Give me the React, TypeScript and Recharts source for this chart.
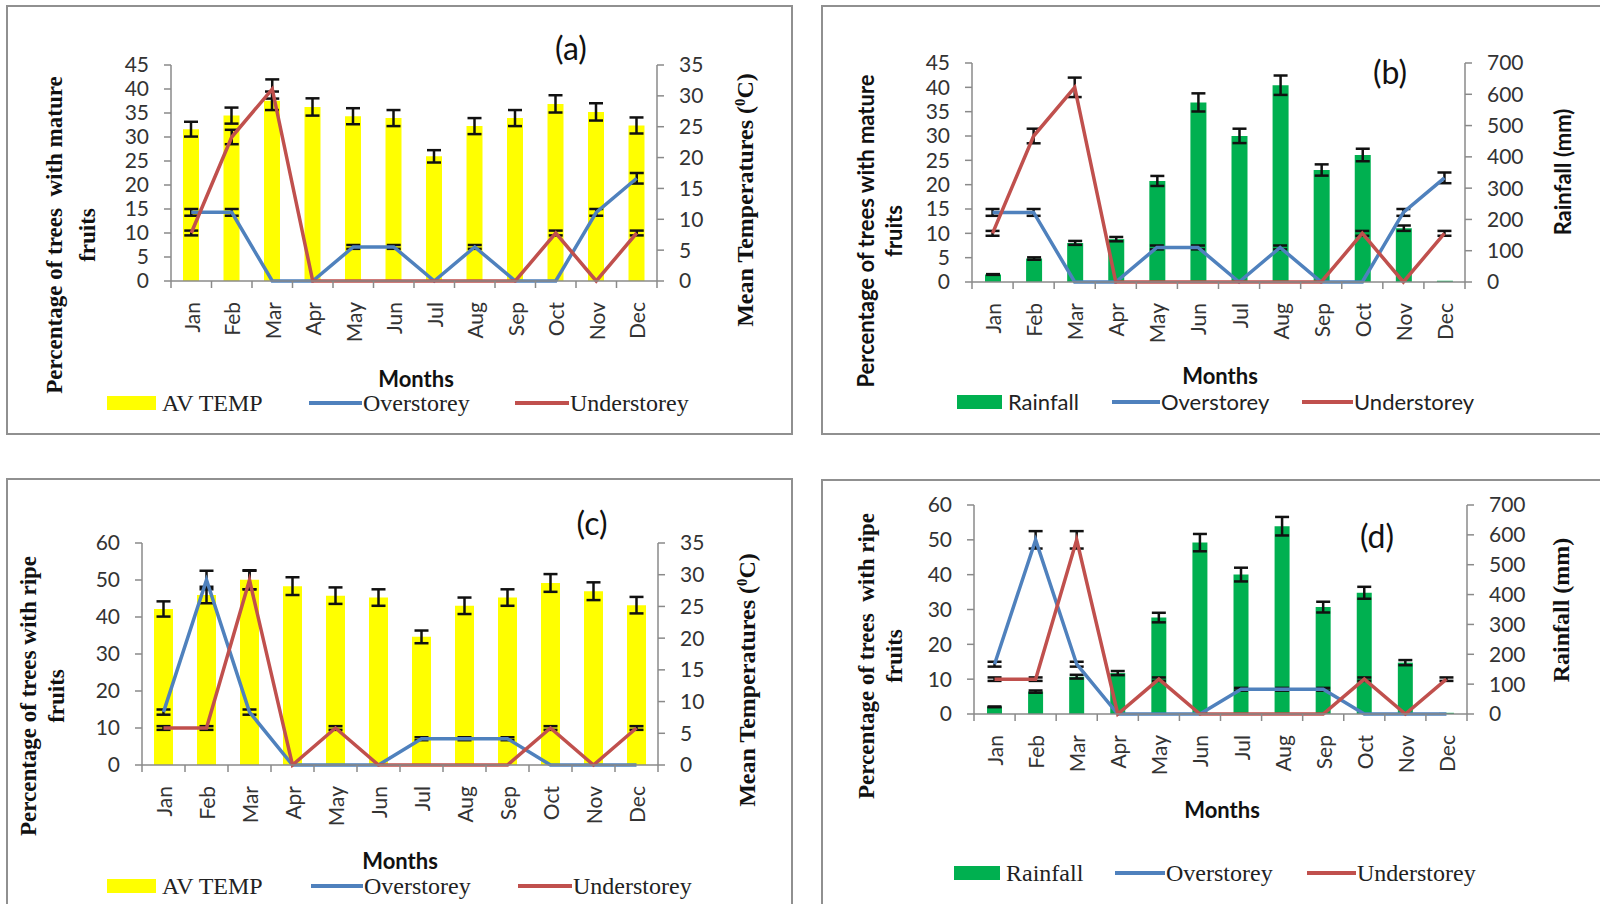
import React from 'react';
import { ComposedChart, Bar, Line, XAxis, YAxis, ErrorBar } from 'recharts';

const months = ['Jan', 'Feb', 'Mar', 'Apr', 'May', 'Jun', 'Jul', 'Aug', 'Sep', 'Oct', 'Nov', 'Dec'];

// mean temperature (degC) and monthly rainfall (mm)
const avTemp = [24.6, 26.8, 29.2, 28.2, 26.7, 26.4, 20.2, 25.1, 26.4, 28.7, 27.4, 25.2];
const avTempErr = [1.2, 1.3, 1.5, 1.4, 1.3, 1.3, 1.0, 1.3, 1.3, 1.4, 1.4, 1.3];
const rainfall = [24, 75, 125, 137, 323, 574, 467, 629, 358, 406, 172, 4];
const rainfallErr = [1.2, 3.8, 6.3, 6.9, 16, 29, 23, 31, 18, 20, 8.6, 0];

// % of trees with mature fruits
const matureOver = [14.3, 14.3, 0, 0, 7.1, 7.1, 0, 7.1, 0, 0, 14.3, 21.4];
const matureOverErr = [0.7, 0.7, 0, 0, 0.4, 0.4, 0, 0.4, 0, 0, 0.7, 1.1];
const matureUnder = [10, 30, 40, 0, 0, 0, 0, 0, 0, 10, 0, 10];
const matureUnderErr = [0.5, 1.5, 2, 0, 0, 0, 0, 0, 0, 0.5, 0, 0.5];

// % of trees with ripe fruits
const ripeOver = [14.3, 50, 14.3, 0, 0, 0, 7.1, 7.1, 7.1, 0, 0, 0];
const ripeOverErr = [0.7, 2.5, 0.7, 0, 0, 0, 0.4, 0.4, 0.4, 0, 0, 0];
const ripeUnder = [10, 10, 50, 0, 10, 0, 0, 0, 0, 10, 0, 10];
const ripeUnderErr = [0.5, 0.5, 2.5, 0, 0.5, 0, 0, 0, 0, 0.5, 0, 0.5];

const pctTicks45 = [0, 5, 10, 15, 20, 25, 30, 35, 40, 45];
const pctTicks60 = [0, 10, 20, 30, 40, 50, 60];
const tempTicks = [0, 5, 10, 15, 20, 25, 30, 35];
const rainTicks = [0, 100, 200, 300, 400, 500, 600, 700];

const AXIS = '#8a8a8a';
const BLUE = '#4F81BD';
const RED = '#C0504D';
const YELLOW = '#FFFF00';
const GREEN = '#00B050';
const SERIF = "'Liberation Serif', 'Times New Roman', serif";
const SANS = "Lato, 'Open Sans', sans-serif";

const build = (bar: number[], barErr: number[], over: number[], overErr: number[], under: number[], underErr: number[]) =>
  months.map((m, i) => ({
    month: m,
    bar: bar[i],
    barErr: barErr[i],
    over: over[i],
    overErr: overErr[i],
    under: under[i],
    underErr: underErr[i],
  }));

const dataA = build(avTemp, avTempErr, matureOver, matureOverErr, matureUnder, matureUnderErr);
const dataB = build(rainfall, rainfallErr, matureOver, matureOverErr, matureUnder, matureUnderErr);
const dataC = build(avTemp, avTempErr, ripeOver, ripeOverErr, ripeUnder, ripeUnderErr);
const dataD = build(rainfall, rainfallErr, ripeOver, ripeOverErr, ripeUnder, ripeUnderErr);

const MonthTick = (props: any) => {
  const { x, payload, index, band, axisY } = props;
  const ty = axisY + 21;
  return (
    <g>
      <line x1={x - band / 2} x2={x - band / 2} y1={axisY} y2={axisY + 7} stroke={AXIS} strokeWidth={1.5} />
      {index === months.length - 1 && (
        <line x1={x + band / 2} x2={x + band / 2} y1={axisY} y2={axisY + 7} stroke={AXIS} strokeWidth={1.5} />
      )}
      <text
        x={x}
        y={ty}
        transform={`rotate(-90 ${x} ${ty})`}
        textAnchor="end"
        dominantBaseline="central"
        fontFamily={SANS}
        fontSize={21}
        fill="#333"
      >
        {payload.value}
      </text>
    </g>
  );
};

interface PanelProps {
  left: number;
  top: number;
  width: number;
  height: number;
  plot: { l: number; t: number; r: number; b: number };
  data: any[];
  barColor: string;
  barSize: number;
  barMax: number;
  barTicks: number[];
  lineMax: number;
  lineTicks: number[];
}

function Panel(p: PanelProps) {
  const yW = 60;
  const xH = 70;
  const band = (p.plot.r - p.plot.l) / months.length;
  const tickStyle = { fontSize: 21, fill: '#333', fontFamily: SANS };
  return (
    <div style={{ position: 'absolute', left: p.left, top: p.top, width: p.width, height: p.height }}>
      <ComposedChart
        width={p.width}
        height={p.height}
        data={p.data}
        margin={{
          top: p.plot.t,
          left: p.plot.l - yW,
          right: p.width - p.plot.r - yW,
          bottom: p.height - p.plot.b - xH,
        }}
      >
        <XAxis
          dataKey="month"
          height={xH}
          interval={0}
          axisLine={{ stroke: AXIS, strokeWidth: 1.5 }}
          tickLine={false}
          tick={(t: any) => <MonthTick {...t} band={band} axisY={p.plot.b} />}
        />
        <YAxis
          yAxisId="left"
          orientation="left"
          width={yW}
          domain={[0, p.lineMax]}
          ticks={p.lineTicks}
          interval={0}
          axisLine={{ stroke: AXIS, strokeWidth: 1.5 }}
          tickLine={{ stroke: AXIS, strokeWidth: 1.5 }}
          tickSize={7}
          tickMargin={15}
          tick={tickStyle}
        />
        <YAxis
          yAxisId="right"
          orientation="right"
          width={yW}
          domain={[0, p.barMax]}
          ticks={p.barTicks}
          interval={0}
          axisLine={{ stroke: AXIS, strokeWidth: 1.5 }}
          tickLine={{ stroke: AXIS, strokeWidth: 1.5 }}
          tickSize={7}
          tickMargin={15}
          tick={tickStyle}
        />
        <Bar yAxisId="right" dataKey="bar" fill={p.barColor} barSize={p.barSize} isAnimationActive={false}>
          <ErrorBar dataKey="barErr" width={7} stroke="#111" strokeWidth={2.5} direction="y" />
        </Bar>
        <Line yAxisId="left" type="linear" dataKey="over" stroke={BLUE} strokeWidth={3.5} dot={false} isAnimationActive={false}>
          <ErrorBar dataKey="overErr" width={7} stroke="#111" strokeWidth={2.5} direction="y" />
        </Line>
        <Line yAxisId="left" type="linear" dataKey="under" stroke={RED} strokeWidth={3.5} dot={false} isAnimationActive={false}>
          <ErrorBar dataKey="underErr" width={7} stroke="#111" strokeWidth={2.5} direction="y" />
        </Line>
      </ComposedChart>
      <div
        style={{
          position: 'absolute',
          inset: 0,
          border: '2px solid #909090',
          boxSizing: 'border-box',
          pointerEvents: 'none',
        }}
      />
    </div>
  );
}

const Txt = ({ x, y, size, family, bold, rotate, lineHeight, children }: any) => (
  <div
    style={{
      position: 'absolute',
      left: x,
      top: y,
      transform: `translate(-50%, -50%)${rotate ? ' rotate(-90deg)' : ''}`,
      fontFamily: family,
      fontSize: size,
      fontWeight: bold ? 700 : 400,
      whiteSpace: 'pre',
      textAlign: 'center',
      lineHeight: lineHeight ? `${lineHeight}px` : 1,
      color: '#111',
    }}
  >
    {children}
  </div>
);

const LegendRow = ({ y, family, size, items }: any) => (
  <>
    {items.map((it: any, i: number) => (
      <div
        key={i}
        style={{
          position: 'absolute',
          left: it.x,
          top: y,
          transform: 'translateY(-50%)',
          display: 'flex',
          alignItems: 'center',
          fontFamily: family,
          fontSize: size,
          lineHeight: 1,
          color: '#222',
          whiteSpace: 'nowrap',
        }}
      >
        {it.kind === 'rect' ? (
          <span style={{ display: 'inline-block', width: it.w, height: 14, background: it.color, marginRight: 6 }} />
        ) : (
          <span style={{ display: 'inline-block', width: it.w, height: 4, background: it.color, marginRight: 1 }} />
        )}
        <span>{it.label}</span>
      </div>
    ))}
  </>
);

const Sup0 = () => <sup style={{ fontSize: '0.62em', verticalAlign: '0.55em', lineHeight: 0 }}>0</sup>;

export default function App() {
  return (
    <div style={{ position: 'absolute', left: 0, top: 0, width: 1600, height: 904, overflow: 'hidden', background: '#fff' }}>
      <Panel
        left={6}
        top={5}
        width={787}
        height={430}
        plot={{ l: 165, t: 60, r: 651, b: 276 }}
        data={dataA}
        barColor={YELLOW}
        barSize={16}
        barMax={35}
        barTicks={tempTicks}
        lineMax={45}
        lineTicks={pctTicks45}
      />
      <Panel
        left={821}
        top={5}
        width={790}
        height={430}
        plot={{ l: 151, t: 58, r: 644, b: 277 }}
        data={dataB}
        barColor={GREEN}
        barSize={16}
        barMax={700}
        barTicks={rainTicks}
        lineMax={45}
        lineTicks={pctTicks45}
      />
      <Panel
        left={6}
        top={478}
        width={787}
        height={430}
        plot={{ l: 136, t: 65, r: 652, b: 287 }}
        data={dataC}
        barColor={YELLOW}
        barSize={19}
        barMax={35}
        barTicks={tempTicks}
        lineMax={60}
        lineTicks={pctTicks60}
      />
      <Panel
        left={821}
        top={479}
        width={790}
        height={430}
        plot={{ l: 153, t: 26, r: 646, b: 235 }}
        data={dataD}
        barColor={GREEN}
        barSize={15}
        barMax={700}
        barTicks={rainTicks}
        lineMax={60}
        lineTicks={pctTicks60}
      />

      {/* (a) */}
      <Txt x={71} y={235} size={23} family={SERIF} bold rotate lineHeight={33}>
        {'Percentage of trees  with mature\nfruits'}
      </Txt>
      <Txt x={745} y={200} size={24} family={SERIF} bold rotate>
        Mean Temperatures (<Sup0 />C)
      </Txt>
      <Txt x={416} y={379} size={22} family={SANS} bold>Months</Txt>
      <Txt x={571} y={48} size={32} family={SANS}>(a)</Txt>
      <LegendRow
        y={403}
        family={SERIF}
        size={24}
        items={[
          { kind: 'rect', x: 107, w: 49, color: YELLOW, label: 'AV TEMP' },
          { kind: 'line', x: 309, w: 53, color: BLUE, label: 'Overstorey' },
          { kind: 'line', x: 515, w: 54, color: RED, label: 'Understorey' },
        ]}
      />

      {/* (b) */}
      <Txt x={880} y={231} size={22} family={SANS} bold rotate lineHeight={28}>
        {'Percentage of trees with mature\nfruits'}
      </Txt>
      <Txt x={1563} y={172} size={22} family={SANS} bold rotate>Rainfall (mm)</Txt>
      <Txt x={1220} y={376} size={22} family={SANS} bold>Months</Txt>
      <Txt x={1390} y={72} size={32} family={SANS}>(b)</Txt>
      <LegendRow
        y={402}
        family={SANS}
        size={22}
        items={[
          { kind: 'rect', x: 957, w: 45, color: GREEN, label: 'Rainfall' },
          { kind: 'line', x: 1112, w: 48, color: BLUE, label: 'Overstorey' },
          { kind: 'line', x: 1302, w: 51, color: RED, label: 'Understorey' },
        ]}
      />

      {/* (c) */}
      <Txt x={43} y={696} size={23} family={SERIF} bold rotate lineHeight={28}>
        {'Percentage of trees with ripe\nfruits'}
      </Txt>
      <Txt x={747} y={680} size={24} family={SERIF} bold rotate>
        Mean Temperatures (<Sup0 />C)
      </Txt>
      <Txt x={400} y={861} size={22} family={SANS} bold>Months</Txt>
      <Txt x={592} y={523} size={32} family={SANS}>(c)</Txt>
      <LegendRow
        y={886}
        family={SERIF}
        size={24}
        items={[
          { kind: 'rect', x: 107, w: 49, color: YELLOW, label: 'AV TEMP' },
          { kind: 'line', x: 311, w: 52, color: BLUE, label: 'Overstorey' },
          { kind: 'line', x: 518, w: 54, color: RED, label: 'Understorey' },
        ]}
      />

      {/* (d) */}
      <Txt x={881} y={656} size={23} family={SERIF} bold rotate lineHeight={28}>
        {'Percentage of trees  with ripe\nfruits'}
      </Txt>
      <Txt x={1561} y={610} size={24} family={SERIF} bold rotate>Rainfall (mm)</Txt>
      <Txt x={1222} y={810} size={22} family={SANS} bold>Months</Txt>
      <Txt x={1377} y={536} size={32} family={SANS}>(d)</Txt>
      <LegendRow
        y={873}
        family={SERIF}
        size={24}
        items={[
          { kind: 'rect', x: 954, w: 46, color: GREEN, label: 'Rainfall' },
          { kind: 'line', x: 1115, w: 50, color: BLUE, label: 'Overstorey' },
          { kind: 'line', x: 1307, w: 49, color: RED, label: 'Understorey' },
        ]}
      />
    </div>
  );
}
